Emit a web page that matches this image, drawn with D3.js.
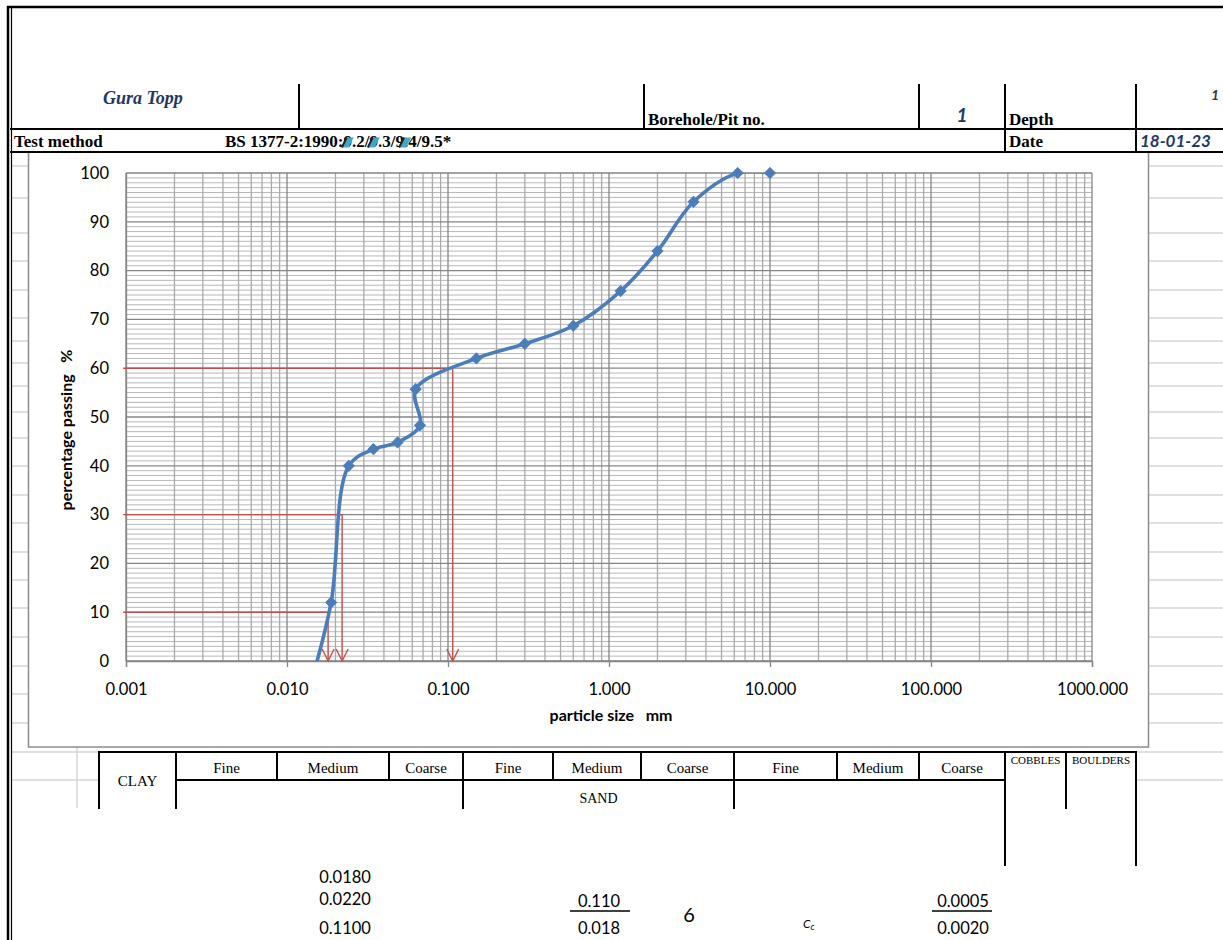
<!DOCTYPE html>
<html><head><meta charset="utf-8">
<script src="https://cdn.jsdelivr.net/npm/d3@7"></script>
<style>
html,body{margin:0;padding:0;background:#fff;}
svg{display:block;}
</style></head>
<body>
<svg id="c" width="1223" height="940"></svg>
<script>
// ---------------- data ----------------
const particleSize   = [0.0145, 0.0188, 0.0242, 0.0344, 0.0486, 0.067, 0.063, 0.15, 0.3, 0.6, 1.18, 2.0, 3.35, 6.3, 10.0];
const percentPassing = [-3, 12.0, 40.0, 43.4, 44.8, 48.3, 55.7, 62.0, 65.0, 68.7, 75.8, 84.0, 94.1, 100, 100];
const refPercent = [60, 30, 10];
const refSize    = [0.107, 0.022, 0.018];
const xTickValues = [0.001, 0.01, 0.1, 1, 10, 100, 1000];
const xTickLabels = ["0.001", "0.010", "0.100", "1.000", "10.000", "100.000", "1000.000"];
const yTickValues = [0, 10, 20, 30, 40, 50, 60, 70, 80, 90, 100];
const xTitle = "particle size   mm";
const yTitle = "percentage passing   %";
const classTop = ["Fine", "Medium", "Coarse", "Fine", "Medium", "Coarse", "Fine", "Medium", "Coarse"];
const dValues = ["0.0180", "0.0220", "0.1100"];
const cuNum = "0.110", cuDen = "0.018", cuVal = "6";
const ccNum = "0.0005", ccDen = "0.0020";

// ---------------- layout ----------------
const svg = d3.select("#c");
const W = 1223, H = 940;
const plot = {left: 126, right: 1092, top: 173, bottom: 661};
const serif = "'Liberation Serif','Times New Roman',serif";
const sans = "Lato,'Open Sans',sans-serif";
const navy = "#1f3864";

svg.append("rect").attr("width", W).attr("height", H).attr("fill", "#fff");

// spreadsheet cell lines
const cellRowsY = [166, 198, 233, 261, 290, 318, 341, 363, 386, 412, 438, 466, 495, 523, 552, 580, 608, 637, 666, 694, 723];
const cellG = svg.append("g").attr("stroke", "#d6d6d6").attr("stroke-width", 1.5);
cellRowsY.forEach(yy => {
  cellG.append("line").attr("x1", 12).attr("x2", 28).attr("y1", yy).attr("y2", yy);
  cellG.append("line").attr("x1", 1149).attr("x2", W).attr("y1", yy).attr("y2", yy);
});
[752, 780].forEach(yy => {
  cellG.append("line").attr("x1", 12).attr("x2", 99).attr("y1", yy).attr("y2", yy);
  cellG.append("line").attr("x1", 1136).attr("x2", W).attr("y1", yy).attr("y2", yy);
});
cellG.append("line").attr("x1", 77).attr("x2", 77).attr("y1", 747).attr("y2", 808);

// chart frame
svg.append("rect").attr("x", 28.5).attr("y", 152).attr("width", 1120).attr("height", 595)
  .attr("fill", "#fff").attr("stroke", "#8c8c8c").attr("stroke-width", 1.5);

// scales
const x = d3.scaleLog().domain([0.001, 1000]).range([plot.left, plot.right]);
const y = d3.scaleLinear().domain([0, 100]).range([plot.bottom, plot.top]);

// grid
const grid = svg.append("g");
const minorX = [];
for (let e = -3; e < 3; e++) for (let k = 2; k <= 9; k++) minorX.push(k * Math.pow(10, e));
const minorY = d3.range(0, 101).filter(v => v % 10 !== 0);
grid.selectAll(".hy").data(minorY).join("line")
  .attr("x1", plot.left).attr("x2", plot.right)
  .attr("y1", d => y(d)).attr("y2", d => y(d))
  .attr("stroke", "#b8b8b8").attr("stroke-width", 1);
grid.selectAll(".vx").data(minorX).join("line")
  .attr("x1", d => x(d)).attr("x2", d => x(d))
  .attr("y1", plot.top).attr("y2", plot.bottom)
  .attr("stroke", "#aaaaaa").attr("stroke-width", 1.3);
grid.selectAll(".hY").data(yTickValues).join("line")
  .attr("x1", plot.left).attr("x2", plot.right)
  .attr("y1", d => y(d)).attr("y2", d => y(d))
  .attr("stroke", "#858585").attr("stroke-width", 1.3);
grid.selectAll(".vX").data(xTickValues).join("line")
  .attr("x1", d => x(d)).attr("x2", d => x(d))
  .attr("y1", plot.top).attr("y2", plot.bottom)
  .attr("stroke", "#858585").attr("stroke-width", 1.3);

// axes
const xAxis = d3.axisBottom(x).tickValues(xTickValues)
  .tickFormat((d, i) => xTickLabels[i]).tickSize(6).tickPadding(16);
const gx = svg.append("g").attr("transform", `translate(0,${plot.bottom})`).call(xAxis);
gx.select(".domain").attr("stroke", "#858585").attr("stroke-width", 1.3);
gx.selectAll(".tick line").attr("stroke", "#858585").attr("stroke-width", 1.3);
gx.selectAll(".tick text").attr("font-family", sans).attr("font-size", 16.5).attr("fill", "#000");

const yAxis = d3.axisLeft(y).tickValues(yTickValues).tickSize(0).tickPadding(17);
const gy = svg.append("g").attr("transform", `translate(${plot.left},0)`).call(yAxis);
gy.select(".domain").attr("stroke", "#858585").attr("stroke-width", 1.3);
gy.selectAll(".tick text").attr("font-family", sans).attr("font-size", 16.5).attr("fill", "#000");

svg.append("text").attr("x", (plot.left + plot.right) / 2 + 2).attr("y", 721)
  .attr("text-anchor", "middle").attr("font-family", sans).attr("font-weight", "bold")
  .attr("font-size", 16).style("white-space", "pre").text(xTitle);
svg.append("text").attr("transform", `translate(72,${(plot.top + plot.bottom) / 2 + 13}) rotate(-90)`)
  .attr("text-anchor", "middle").attr("font-family", sans).attr("font-weight", "bold")
  .attr("font-size", 16).style("white-space", "pre").text(yTitle);

// red reference lines (D60, D30, D10)
const refs = refPercent.map((p, i) => ({p, s: refSize[i]}));
const redG = svg.append("g").attr("stroke", "#c0504d").attr("stroke-width", 1.4).attr("fill", "none");
refs.forEach(r => {
  redG.append("path").attr("d", d3.line()([[x(0.00096), y(r.p)], [x(r.s), y(r.p)], [x(r.s), y(0)]]));
  redG.append("path").attr("d", d3.line()([[x(r.s) - 6, y(0) - 12], [x(r.s), y(0)], [x(r.s) + 6, y(0) - 12]]));
});

// grading curve
const pts = particleSize.map((s, i) => ({s, p: percentPassing[i]}));
svg.append("clipPath").attr("id", "pc").append("rect")
  .attr("x", plot.left).attr("y", plot.top).attr("width", plot.right - plot.left).attr("height", plot.bottom - plot.top);
svg.append("path").datum(pts)
  .attr("clip-path", "url(#pc)")
  .attr("d", d3.line().x(d => x(d.s)).y(d => y(d.p)).curve(d3.curveCatmullRom.alpha(0.5)))
  .attr("fill", "none").attr("stroke", "#4a7ebb").attr("stroke-width", 3.6).attr("stroke-linejoin", "round");
svg.selectAll(".mk").data(pts.filter(d => d.p >= 0)).join("path")
  .attr("d", d3.symbol(d3.symbolSquare, 58)())
  .attr("transform", d => `translate(${x(d.s)},${y(d.p)}) rotate(45)`)
  .attr("fill", "#4a7ebb").attr("stroke", "#4a7ebb").attr("stroke-width", 1);

// ---------------- header ----------------
const hdr = svg.append("g").attr("stroke", "#000");
hdr.append("line").attr("x1", 7).attr("x2", W).attr("y1", 7).attr("y2", 7).attr("stroke-width", 2.5);
hdr.append("line").attr("x1", 8).attr("x2", 8).attr("y1", 6).attr("y2", H).attr("stroke-width", 2.5);
hdr.append("line").attr("x1", 11.5).attr("x2", 11.5).attr("y1", 6).attr("y2", H).attr("stroke-width", 1.2);
hdr.append("line").attr("x1", 10).attr("x2", W).attr("y1", 129).attr("y2", 129).attr("stroke-width", 2);
hdr.append("line").attr("x1", 10).attr("x2", W).attr("y1", 152).attr("y2", 152).attr("stroke-width", 2);
[299, 644, 919].forEach(xx => hdr.append("line").attr("x1", xx).attr("x2", xx).attr("y1", 84).attr("y2", 129).attr("stroke-width", 2));
[1005, 1136].forEach(xx => hdr.append("line").attr("x1", xx).attr("x2", xx).attr("y1", 84).attr("y2", 152).attr("stroke-width", 2));

function txt(t, xx, yy, opts) {
  const o = Object.assign({family: serif, size: 17, weight: "bold", style: "normal", fill: "#000", anchor: "start"}, opts || {});
  return svg.append("text").attr("x", xx).attr("y", yy).attr("font-family", o.family)
    .attr("font-size", o.size).attr("font-weight", o.weight).attr("font-style", o.style)
    .attr("fill", o.fill).attr("text-anchor", o.anchor).text(t);
}
txt("Gura Topp", 103, 104, {style: "italic", size: 18, fill: navy});
txt("Borehole/Pit no.", 648, 125);
txt("1", 962, 122, {family: sans, style: "italic", size: 19, fill: navy, anchor: "middle"});
txt("Depth", 1009, 125);
txt("1", 1219, 100, {family: sans, style: "italic", size: 14, fill: navy, anchor: "end"});
txt("Test method", 14, 147);
const bs = txt("BS 1377-2:1990:9.2/9.3/9.4/9.5*", 225, 147);
txt("Date", 1009, 147);
txt("18-01-23", 1140, 147, {family: sans, style: "italic", size: 17, fill: navy});

// scribble marks over the method clause numbers
[15, 19, 24].forEach((ci, k) => {
  const ext = bs.node().getExtentOfChar(ci);
  const cx = ext.x + ext.width / 2 + (k === 2 ? -1 : 0), cy = ext.y + ext.height * 0.55;
  svg.append("polygon")
    .attr("points", [[cx - 6, cy + 5], [cx - 1, cy - 5], [cx + 6, cy - 5], [cx + 1, cy + 5]].map(p => p.join(",")).join(" "))
    .attr("fill", "#3fa9c9");
  svg.append("line").attr("x1", cx - 6).attr("y1", cy + 5).attr("x2", cx - 1).attr("y2", cy - 5)
    .attr("stroke", "#222").attr("stroke-width", 2);
});

// ---------------- soil classification table ----------------
const colX = [99, 176, 277, 389, 463, 553, 641, 734, 837, 919, 1005, 1066, 1136];
const tb = svg.append("g").attr("stroke", "#000").attr("stroke-width", 2);
tb.append("line").attr("x1", 99).attr("x2", 1136).attr("y1", 752).attr("y2", 752);
tb.append("line").attr("x1", 176).attr("x2", 1005).attr("y1", 780).attr("y2", 780);
colX.forEach((xx, i) => {
  let y2 = 780;
  if ([0, 1, 4, 7, 11].includes(i)) y2 = 809;
  if (i === 10 || i === 12) y2 = 866;
  tb.append("line").attr("x1", xx).attr("x2", xx).attr("y1", 751).attr("y2", y2);
});
txt("CLAY", (colX[0] + colX[1]) / 2, 786, {weight: "normal", size: 15, anchor: "middle"});
classTop.forEach((t, i) => txt(t, (colX[i + 1] + colX[i + 2]) / 2, 773, {weight: "normal", size: 15, anchor: "middle"}));
txt("SAND", (colX[4] + colX[7]) / 2, 803, {weight: "normal", size: 14, anchor: "middle"});
txt("COBBLES", (colX[10] + colX[11]) / 2, 764, {weight: "normal", size: 11, anchor: "middle"});
txt("BOULDERS", (colX[11] + colX[12]) / 2, 764, {weight: "normal", size: 11, anchor: "middle"});

// ---------------- bottom values ----------------
const nOpt = {family: sans, weight: "normal", size: 16.5, anchor: "middle"};
txt(dValues[0], 345, 883, nOpt);
txt(dValues[1], 345, 905, nOpt);
txt(dValues[2], 345, 934, nOpt);
txt(cuNum, 599, 907, nOpt);
svg.append("line").attr("x1", 570).attr("x2", 630).attr("y1", 911).attr("y2", 911).attr("stroke", "#000").attr("stroke-width", 1.3);
txt(cuDen, 599, 934, nOpt);
txt(cuVal, 689, 922, {family: sans, weight: "normal", size: 20, anchor: "middle"});
const cc = txt("C", 803, 928, {family: sans, weight: "normal", style: "italic", size: 12});
cc.append("tspan").attr("font-size", 9).attr("dy", 2).text("c");
txt(ccNum, 963, 907, nOpt);
svg.append("line").attr("x1", 932).attr("x2", 992).attr("y1", 911).attr("y2", 911).attr("stroke", "#000").attr("stroke-width", 1.3);
txt(ccDen, 963, 934, nOpt);
</script>
</body></html>
